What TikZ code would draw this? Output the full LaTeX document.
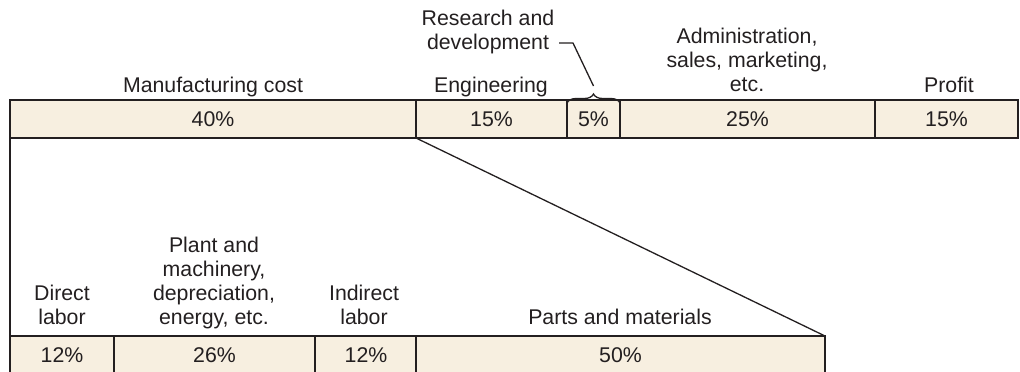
\documentclass[tikz,border=0pt]{standalone}
\usepackage{fontspec}
\setmainfont{Liberation Sans}
\usetikzlibrary{decorations.pathreplacing}
\definecolor{ink}{HTML}{231F20}
\definecolor{cellfill}{HTML}{F7EFE0}
\newcommand\lblfont{\fontsize{21.3}{23.8}\selectfont}
\begin{document}
\begin{tikzpicture}[x=1pt,y=-1pt,
  cell/.style={draw=ink, line width=2.8pt, fill=cellfill, anchor=north west,
    minimum height=38pt, inner sep=0pt, outer sep=0pt, text=ink, font=\lblfont},
  lbl/.style={text=ink, font=\lblfont, align=center, inner sep=0pt, anchor=base},
  thinline/.style={draw=ink, line width=1.3pt}]
\useasboundingbox (0,0) rectangle (1020,372);
\clip (0,0) rectangle (1020,372);
% top bar
\node[cell, minimum width=406pt] (mfg) at (10,100) {40\%};
\node[cell, minimum width=151pt] (eng) at (416,100) {15\%};
\node[cell, minimum width=53pt]  (rd)  at (567,100) {5\%};
\node[cell, minimum width=255pt] (adm) at (620,100) {25\%};
\node[cell, minimum width=143pt] (pro) at (875,100) {15\%};
% bottom bar
\node[cell, minimum width=104pt] (dl) at (10,336) {12\%};
\node[cell, minimum width=201pt] (pl) at (114,336) {26\%};
\node[cell, minimum width=102pt] (il) at (315,336) {12\%};
\node[cell, minimum width=409pt] (pm) at (416,336) {50\%};
% connectors
\draw[thinline] (mfg.south west) -- (dl.north west);
\draw[thinline] (mfg.south east) -- (pm.north east);
% top labels
\node[lbl] (lmfg) at (213,92) {Manufacturing cost};
\node[lbl] (leng) at (491,92) {Engineering};
\node[lbl] (lpro) at (949,92) {Profit};
\node[lbl] (ladm) at (747,91) {Administration,\\ sales, marketing,\\ etc.};
\node[lbl] (lrd) at (488,49) {Research and\\ development};
% brace for R&D
\draw[thinline, decorate, decoration={brace, amplitude=9pt}]
  ([yshift=-3pt]rd.north west) -- ([yshift=-3pt]rd.north east);
\coordinate (rdstart) at (559,43);
\coordinate (rdtip) at (593.5,86);
\draw[thinline] (rdstart) -- ++(14,0) -- (rdtip);
% bottom labels
\node[lbl] (ldl) at (62,324) {Direct\\ labor};
\node[lbl] (lpl) at (214,324) {Plant and\\ machinery,\\ depreciation,\\ energy, etc.};
\node[lbl] (lil) at (364,324) {Indirect\\ labor};
\node[lbl] (lpm) at (620,324) {Parts and materials};
\end{tikzpicture}
\end{document}
